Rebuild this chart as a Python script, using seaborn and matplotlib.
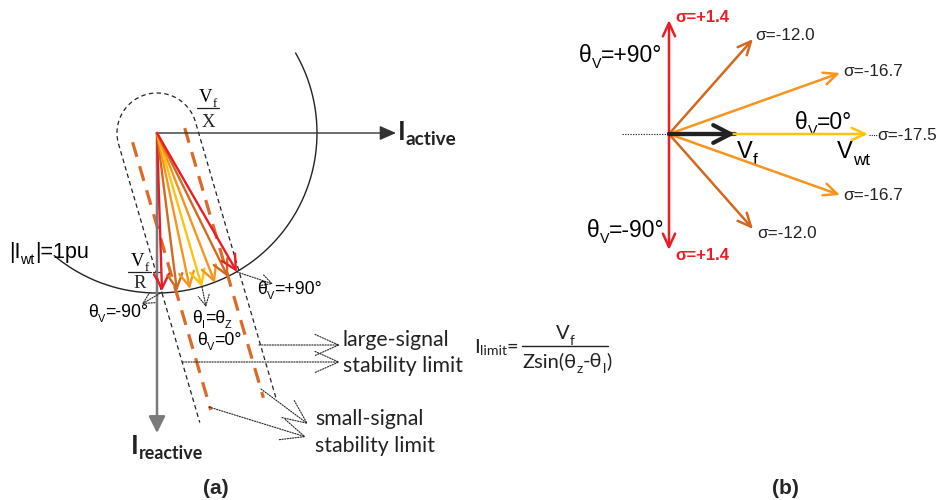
import numpy as np
import pandas as pd
import matplotlib
matplotlib.use("Agg")
import matplotlib.pyplot as plt
import seaborn as sns

sns.set_theme(style="white")
plt.rcParams['font.family'] = ['Liberation Sans', 'DejaVu Sans']
plt.rcParams['lines.scale_dashes'] = False

# ---------------- data ----------------
vec_colors = ['#ED1C24', '#D2691E', '#F7941D', '#FFC20E', '#F7941D', '#D2691E', '#ED1C24']
# panel (a): converter current phasors (active, reactive components), drawing units
i_active = [5, 20, 33, 45, 58, 71, 80]
i_reactive = [158, 158, 156, 154, 150, 144, 139]
# panel (b): wind-turbine voltage phasors (real, imag), drawing units
vwt_real = [0, 84, 171, 199, 171, 84, 0]
vwt_imag = [114, 95, 61, 0, -61, -95, -116]
sigma_values = ['+1.4', '-12.0', '-16.7', '-17.5', '-16.7', '-12.0', '+1.4']
theta_v_deg = [90, 48, 20, 0, -20, -48, -90]
i_wt_radius = 160          # |I_wt| = 1 pu
vf_length = 66             # V_f phasor

W, H = 937, 500
fig = plt.figure(figsize=(W / 100, H / 100), dpi=100)
ax = fig.add_axes([0, 0, 1, 1])
ax.set_xlim(0, W)
ax.set_ylim(H, 0)
ax.axis('off')
renderer = fig.canvas.get_renderer()

LIB = ['Liberation Sans', 'DejaVu Sans']
CAL = ['Lato', 'Liberation Sans', 'DejaVu Sans']
SER = ['Liberation Serif', 'DejaVu Serif']


def rich(x, y, parts, size, family=LIB, color='black', weight='normal',
         ha='left', sub_scale=0.68, sub_drop=0.28):
    """parts: list of (text, is_subscript); y = baseline (pixel coords)."""
    texts, cx = [], x
    for txt, sub in parts:
        fs = size * sub_scale if sub else size
        dy = size * sub_drop * 100 / 72 if sub else 0
        t = ax.text(cx, y + dy, txt, fontsize=fs, family=family, color=color,
                    weight=weight, va='baseline', ha='left')
        w = t.get_window_extent(renderer).width
        texts.append(t)
        cx += w
    if ha == 'center':
        shift = (cx - x) / 2
        for t in texts:
            px, py = t.get_position()
            t.set_position((px - shift, py))
    return texts


def arrow(tail, tip, color, lw, style='->', hl=0.4, hw=0.2, ms=20, ls='-', z=3):
    ax.annotate('', xy=tip, xytext=tail,
                arrowprops=dict(arrowstyle=f'{style},head_length={hl},head_width={hw}',
                                color=color, lw=lw, shrinkA=0, shrinkB=0,
                                mutation_scale=ms, linestyle=ls), zorder=z)


# ================= panel (a) =================
O = np.array([157.0, 133.0])

# |I_wt| = 1pu circle arc
ang = np.radians(np.linspace(-130, 30, 300))
arc = pd.DataFrame({'x': O[0] + i_wt_radius * np.cos(ang),
                    'y': O[1] - i_wt_radius * np.sin(ang)})
sns.lineplot(data=arc, x='x', y='y', sort=False, estimator=None,
             color='#222222', lw=1.0, ax=ax)

# axes
arrow(O, (396, 133), '#333333', 1.0, style='-|>', hl=0.5, hw=0.22, ms=20)
arrow(O, (157, 433), '#7a7a7a', 1.8, style='-|>', hl=0.5, hw=0.25, ms=20)
rich(398, 140, [('I', False), ('active', True)], 19, family=CAL, weight='bold',
     color='#222222', sub_scale=0.72, sub_drop=0.18)
rich(131, 454, [('I', False), ('reactive', True)], 19, family=CAL, weight='bold',
     color='#222222', sub_scale=0.68, sub_drop=0.18)

# capsule (rounded dashed boundary)
d = np.array([0.28, 0.96])
n = np.array([0.96, -0.28])
r = 40
phi = np.linspace(0, np.pi, 80)
cap = O[None, :] + r * (np.cos(phi)[:, None] * n[None, :] - np.sin(phi)[:, None] * d[None, :])
right_end = O + r * n + 287 * d
left_end = O - r * n + 290 * d
cap_path = np.vstack([right_end, cap, left_end])
ax.plot(cap_path[:, 0], cap_path[:, 1], color='#222222', lw=0.9,
        dashes=(3.2, 2.4), zorder=2)

# orange dashed stability lines
for off, t0, t1 in [(-26, 2, 281), (28, 3, 284)]:
    p0 = O + off * n + t0 * d
    p1 = O + off * n + t1 * d
    ax.plot([p0[0], p1[0]], [p0[1], p1[1]], color='#DC6A2A', lw=2.3,
            dashes=(11, 7), zorder=2)

# current phasors
for a_, q_, c in zip(i_active, i_reactive, vec_colors):
    arrow(O, (O[0] + a_, O[1] + q_), c, 1.7, hl=0.52, hw=0.27, ms=20, z=4)

# small tick on reactive axis
ax.plot([153, 161], [272, 272], color='#333333', lw=0.9)

# fractions Vf/X and Vf/R
rich(208, 102, [('V', False), ('f', True)], 13.5, family=SER, ha='center')
ax.plot([197, 219], [108, 108], color='#222222', lw=0.9)
ax.text(208, 127, 'X', fontsize=13.5, family=SER, ha='center', va='baseline')
rich(140, 266, [('V', False), ('f', True)], 13.5, family=SER, ha='center')
ax.plot([128, 151], [272, 272], color='#222222', lw=0.9)
ax.text(140, 288, 'R', fontsize=13.5, family=SER, ha='center', va='baseline')

rich(9, 258, [('|I', False), ('wt', True), ('|=1pu', False)], 15.5, sub_scale=0.66)

# dotted pointer arrows
dot = (0.9, 1.0)
arrow((237, 272), (273, 284), '#222222', 0.8, hl=0.38, hw=0.2, ms=20, ls=(0, dot))
arrow((162, 292), (142, 304), '#222222', 0.8, hl=0.38, hw=0.2, ms=20, ls=(0, dot))
arrow((202, 287), (206, 307), '#222222', 0.8, hl=0.38, hw=0.2, ms=20, ls=(0, dot))
arrow((259, 345), (340, 345), '#222222', 0.8, hl=0.85, hw=0.38, ms=20, ls=(0, dot))
arrow((183, 362), (340, 362), '#222222', 0.8, hl=0.85, hw=0.38, ms=20, ls=(0, dot))
arrow((209, 407), (306, 437), '#222222', 0.8, hl=0.85, hw=0.38, ms=20, ls=(0, dot))
arrow((261, 389), (308, 424), '#222222', 0.8, hl=0.85, hw=0.38, ms=20, ls=(0, dot))

# theta labels (a)
th = 12.7
rich(257, 294, [('θ', False), ('V', True), ('=+90°', False)], th, sub_scale=0.62)
rich(88, 317, [('θ', False), ('V', True), ('=-90°', False)], th, sub_scale=0.62)
rich(192, 323, [('θ', False), ('I', True), ('=θ', False), ('Z', True)], th, sub_scale=0.62)
rich(197, 345, [('θ', False), ('V', True), ('=0°', False)], th, sub_scale=0.62)

# stability labels
fs_lab = 15.3
ax.text(343, 346, 'large-signal', fontsize=fs_lab, family=CAL, va='baseline', color='#222222')
ax.text(343, 372, 'stability limit', fontsize=fs_lab, family=CAL, va='baseline', color='#222222')
ax.text(315, 425, 'small-signal', fontsize=fs_lab, family=CAL, va='baseline', color='#222222')
ax.text(315, 452, 'stability limit', fontsize=fs_lab, family=CAL, va='baseline', color='#222222')

# I_limit formula
rich(474, 353, [('I', False), ('limit', True), ('=', False)], 14.5, family=CAL,
     color='#222222', sub_scale=0.7, sub_drop=0.12)
rich(565, 339, [('V', False), ('f', True)], 14.5, family=CAL, color='#222222', ha='center')
ax.plot([522, 608], [346, 346], color='#222222', lw=1.0)
rich(567, 367, [('Zsin(θ', False), ('z', True), ('-θ', False), ('l', True), (')', False)],
     14.5, family=CAL, color='#222222', ha='center')

ax.text(216, 494, '(a)', fontsize=15, weight='bold', ha='center', va='baseline')

# ================= panel (b) =================
P = np.array([669.0, 134.0])
ax.plot([622, 669], [134, 134], color='#222222', lw=0.8, dashes=dot)

# black V_f underlay
ax.plot([P[0], P[0] + vf_length], [134, 134], color='#222222', lw=3.0, zorder=3)
for re_, im_, c in zip(vwt_real, vwt_imag, vec_colors):
    arrow(P, (P[0] + re_, P[1] - im_), c, 1.8, hl=0.48, hw=0.22, ms=20, z=4)
arrow(P, (P[0] + vf_length, 134), '#222222', 3.0, hl=0.62, hw=0.32, ms=20, z=5)

label_pos = [(675, 17), (755, 36), (843, 72), (877, 136), (843, 196), (757, 233), (675, 256)]
for (lx, ly), s, c in zip(label_pos, sigma_values, vec_colors):
    if s.startswith('+'):
        ax.text(lx, ly, 'σ=' + s, fontsize=12, weight='bold', color='#ED1C24',
                va='center', ha='left')
    else:
        ax.text(lx, ly, 'σ=' + s, fontsize=12.3, color='#222222', va='center', ha='left')
ax.plot([869, 877], [135, 135], color='#222222', lw=0.8, dashes=(0.8, 0.8))

tb = 16.5
rich(579, 62, [('θ', False), ('V', True), ('=+90°', False)], tb, sub_scale=0.62)
rich(587, 237, [('θ', False), ('V', True), ('=-90°', False)], tb, sub_scale=0.62)
rich(795, 129, [('θ', False), ('V', True), ('=0°', False)], tb, sub_scale=0.62)
rich(737, 158, [('V', False), ('f', True)], 17, sub_scale=0.72)
rich(837, 158, [('V', False), ('wt', True)], 17, sub_scale=0.72)

ax.text(785, 494, '(b)', fontsize=15, weight='bold', ha='center', va='baseline')

fig.savefig('out.png', dpi=100)
